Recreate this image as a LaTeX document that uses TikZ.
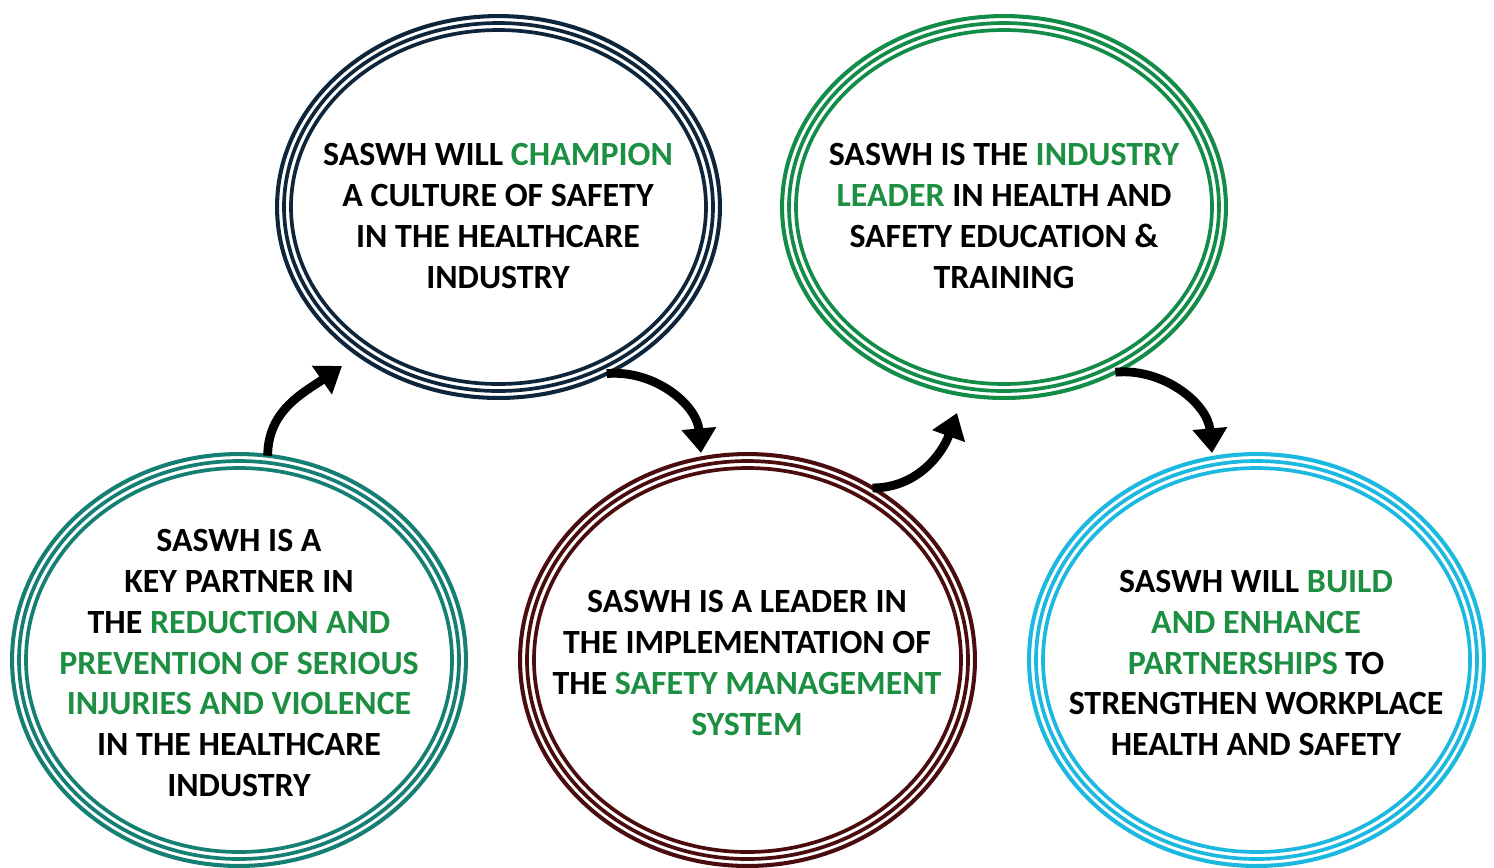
\documentclass[tikz,border=0pt]{standalone}
\usepackage{fontspec}
\setmainfont{Carlito}
\usetikzlibrary{shapes.geometric,arrows.meta}

\definecolor{tealc}{RGB}{21,127,115}
\definecolor{navyc}{RGB}{14,38,60}
\definecolor{maroonc}{RGB}{74,12,12}
\definecolor{greenc}{RGB}{19,140,72}
\definecolor{cyanc}{RGB}{27,184,224}
\definecolor{txtgreen}{RGB}{28,143,66}

\newcommand{\hl}[1]{\textcolor{txtgreen}{#1}}

\begin{document}
\begin{tikzpicture}[x=0.02cm, y=-0.02cm,
  ring/.style={ellipse, draw=#1, line width=2.3pt, inner sep=0pt, outer sep=0pt},
  innerring/.style={draw=#1, line width=2.1pt},
  txt/.style={align=center, font=\bfseries\fontsize{19.3}{23.2}\selectfont},
  curvearrow/.style={line width=5pt, -{Triangle[width=19pt, length=14pt]}}]

\useasboundingbox (0,0) rectangle (1494,867);

% bottom left
\node[ring=tealc, minimum width=9.08cm, minimum height=8.24cm] (teal) at (239,660) {};
\draw[innerring=tealc] (teal.center) ellipse [x radius=220, y radius=199];
\draw[innerring=tealc] (teal.center) ellipse [x radius=213, y radius=192];
\node[txt] (tealtxt) at (239,663) {SASWH IS A\\KEY PARTNER IN\\THE \hl{REDUCTION AND}\\\hl{PREVENTION OF SERIOUS}\\\hl{INJURIES AND VIOLENCE}\\IN THE HEALTHCARE\\INDUSTRY};

% top left
\node[ring=navyc, minimum width=8.86cm, minimum height=7.64cm] (navy) at (498.5,207) {};
\draw[innerring=navyc] (navy.center) ellipse [x radius=214.5, y radius=184];
\draw[innerring=navyc] (navy.center) ellipse [x radius=207.5, y radius=177];
\node[txt] (navytxt) at (498,216) {SASWH WILL \hl{CHAMPION}\\A CULTURE OF SAFETY\\IN THE HEALTHCARE\\INDUSTRY};

% bottom middle
\node[ring=maroonc, minimum width=9.1cm, minimum height=8.24cm] (maroon) at (747.5,660) {};
\draw[innerring=maroonc] (maroon.center) ellipse [x radius=220.5, y radius=199];
\draw[innerring=maroonc] (maroon.center) ellipse [x radius=213.5, y radius=192];
\node[txt] (maroontxt) at (747,663) {SASWH IS A LEADER IN\\THE IMPLEMENTATION OF\\THE \hl{SAFETY MANAGEMENT}\\\hl{SYSTEM}};

% top right
\node[ring=greenc, minimum width=8.88cm, minimum height=7.64cm] (green) at (1004,207) {};
\draw[innerring=greenc] (green.center) ellipse [x radius=215, y radius=184];
\draw[innerring=greenc] (green.center) ellipse [x radius=208, y radius=177];
\node[txt] (greentxt) at (1004,216) {SASWH IS THE \hl{INDUSTRY}\\\hl{LEADER} IN HEALTH AND\\SAFETY EDUCATION \&\\TRAINING};

% bottom right
\node[ring=cyanc, minimum width=9.1cm, minimum height=8.24cm] (cyan) at (1256.5,660) {};
\draw[innerring=cyanc] (cyan.center) ellipse [x radius=220.5, y radius=199];
\draw[innerring=cyanc] (cyan.center) ellipse [x radius=213.5, y radius=192];
\node[txt] (cyantxt) at (1256,663) {SASWH WILL \hl{BUILD}\\\hl{AND ENHANCE}\\\hl{PARTNERSHIPS} TO\\STRENGTHEN WORKPLACE\\HEALTH AND SAFETY};

% arrows
\coordinate (tip1) at (342,366);
\coordinate (tip2) at (701,453);
\coordinate (tip3) at (957,413);
\coordinate (tip4) at (1212,453);
\draw[curvearrow] (teal.82) to[out=90, in=215] (tip1);
\draw[curvearrow] (navy.-57) to[out=5, in=95] (tip2);
\draw[curvearrow] (maroon.54) to[out=0, in=250] (tip3);
\draw[curvearrow] (green.-56) to[out=5, in=95] (tip4);
\end{tikzpicture}
\end{document}
